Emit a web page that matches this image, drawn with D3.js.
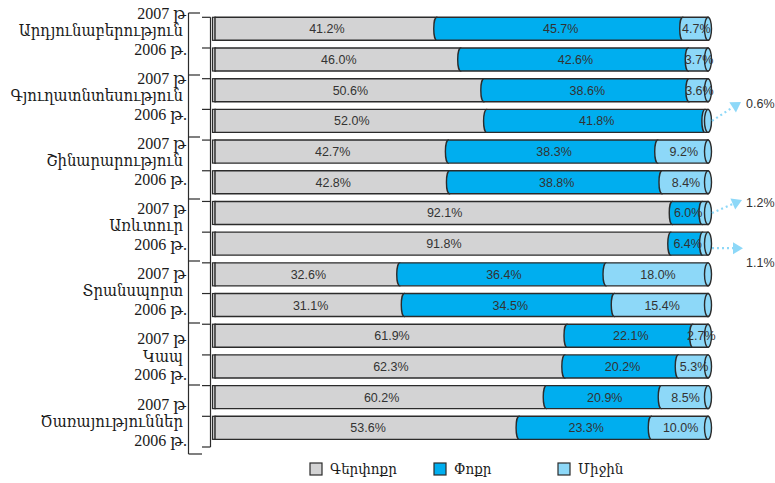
<!DOCTYPE html>
<html>
<head>
<meta charset="utf-8">
<script src="https://cdn.jsdelivr.net/npm/d3@7"></script>
<style>
  body { margin: 0; background: #fff; }
  svg { display: block; }
</style>
</head>
<body>
<svg id="chart"></svg>
<script>
"use strict";

// categories
var groups = ["Արդյունաբերություն", "Գյուղատնտեսություն", "Շինարարություն",
  "Առևտուր", "Տրանսպորտ", "Կապ", "Ծառայություններ"];
var years = ["2007 թ", "2006 թ."];
var seriesNames = ["Գերփոքր", "Փոքր", "Միջին"];

// one value per bar, in order: group1 2007, group1 2006, group2 2007 ...
var micro = [41.2, 46.0, 50.6, 52.0, 42.7, 42.8, 92.1, 91.8, 32.6, 31.1, 61.9, 62.3, 60.2, 53.6];
var small = [45.7, 42.6, 38.6, 41.8, 38.3, 38.8, 6.0, 6.4, 36.4, 34.5, 22.1, 20.2, 20.9, 23.3];
var medium = [4.7, 3.7, 3.6, 0.6, 9.2, 8.4, 1.2, 1.1, 18.0, 15.4, 2.7, 5.3, 8.5, 10.0];

var colors = ["#d3d3d4", "#00aeef", "#8dd8f8"];
var strokeCol = "#2b2b2b";

// callout arrows for the tiny segments (direction of the dotted arrow, label offset)
var calloutLayout = [
  { dx: 29, dy: -19, oy: 0, ly: -17 },
  { dx: 30, dy: -13, oy: 0, ly: -10 },
  { dx: 31, dy: 0, oy: 4.5, ly: 19 }
];

var svg = d3.select("#chart").attr("width", 775).attr("height", 483);

var rows = [];
groups.forEach(function (g, gi) {
  years.forEach(function (yr, yi) {
    var i = gi * 2 + yi;
    rows.push({ key: g + "|" + yr, group: g, year: yr, vals: [micro[i], small[i], medium[i]] });
  });
});

var yBar = d3.scaleBand().domain(rows.map(function (r) { return r.key; }))
  .range([17.3, 447]);
var barH = yBar.bandwidth() * 0.75;
var yGroup = d3.scaleBand().domain(groups).range([13, 447]);
var yLabel = d3.scaleLinear().domain([0, groups.length - 1]).range([30, 421]);

var x0 = 215, x1 = 708, capRx = 3;

// ---- axes / brackets
var axis = svg.append("g").attr("stroke", strokeCol).attr("stroke-width", 1.2);
axis.append("line").attr("x1", 210.5).attr("x2", 210.5).attr("y1", yBar.range()[0]).attr("y2", 447);
var tickYs = rows.map(function (r) { return yBar(r.key); }).concat([447]);
axis.selectAll("line.tk").data(tickYs).enter().append("line")
  .attr("class", "tk")
  .attr("x1", 202).attr("x2", 210.5)
  .attr("y1", function (d) { return d; }).attr("y2", function (d) { return d; });

axis.append("line").attr("x1", 188.5).attr("x2", 188.5).attr("y1", 13).attr("y2", 454);
axis.selectAll("line.gt").data(groups).enter().append("line")
  .attr("class", "gt")
  .attr("x1", 188.5).attr("x2", 200)
  .attr("y1", function (d) { return yGroup(d); }).attr("y2", function (d) { return yGroup(d); });
axis.append("line").attr("x1", 188.5).attr("x2", 202).attr("y1", 454).attr("y2", 454);

// ---- left labels
var serif = "'Liberation Serif', 'DejaVu Serif', serif";
var lab = svg.append("g").attr("fill", "#1a1a1a").style("font-family", serif);
groups.forEach(function (g, gi) {
  var cy = yLabel(gi);
  lab.append("text").attr("x", 186).attr("y", cy - 17).attr("dy", "0.35em")
    .attr("text-anchor", "end").style("font-size", "16px").text(years[0]);
  lab.append("text").attr("x", 183).attr("y", cy).attr("dy", "0.35em")
    .attr("text-anchor", "end")
    .style("font-family", "'DejaVu Serif', serif").style("font-stretch", "condensed")
    .style("font-size", "16.5px").text(g);
  lab.append("text").attr("x", 187).attr("y", cy + 19).attr("dy", "0.35em")
    .attr("text-anchor", "end").style("font-size", "16px").text(years[1]);
});

// ---- bars
var bars = svg.append("g");
var callouts = [];
rows.forEach(function (r) {
  var total = d3.sum(r.vals);
  var x = d3.scaleLinear().domain([0, total]).range([x0, x1]);
  var top = yBar(r.key), mid = top + barH / 2;
  var g = bars.append("g");
  var acc = 0;
  var segs = r.vals.map(function (v, i) {
    var s = { a: acc, b: acc + v, v: v, i: i };
    acc += v;
    return s;
  });
  // left edge sliver
  g.append("rect").attr("x", x0 - 2.5).attr("y", top).attr("width", 3).attr("height", barH)
    .attr("fill", colors[0]).attr("stroke", strokeCol).attr("stroke-width", 1.2);
  g.selectAll("path.seg").data(segs).enter().append("path")
    .attr("class", "seg")
    .attr("d", function (s) {
      var xa = x(s.a), xb = x(s.b);
      if (s.i === 0) {
        return "M" + xa + "," + top + "H" + xb + "V" + (top + barH) + "H" + xa + "Z";
      }
      return "M" + xa + "," + top + "H" + xb + "V" + (top + barH) + "H" + xa +
        "A" + capRx + "," + (barH / 2) + " 0 0 1 " + xa + "," + top + "Z";
    })
    .attr("fill", function (s) { return colors[s.i]; })
    .attr("stroke", strokeCol).attr("stroke-width", 1.4);
  g.append("ellipse").attr("cx", x1).attr("cy", mid).attr("rx", capRx + 0.5).attr("ry", barH / 2)
    .attr("fill", colors[2]).attr("stroke", strokeCol).attr("stroke-width", 1.4);

  segs.forEach(function (s) {
    var txt = s.v.toFixed(1) + "%";
    if (x(s.b) - x(s.a) < 8) {
      callouts.push({ y: mid, text: txt });
      return;
    }
    g.append("text").attr("x", (x(s.a) + x(s.b)) / 2 + 1).attr("y", mid).attr("dy", "0.36em")
      .attr("text-anchor", "middle")
      .style("font-family", "'Liberation Sans', Arial, sans-serif").style("font-size", "12.5px")
      .attr("fill", "#333").text(txt);
  });
});

// ---- callouts for tiny segments
var cg = svg.append("g");
callouts.forEach(function (c, i) {
  var L = calloutLayout[i];
  var sx = x1 + 4, sy = c.y + L.oy;
  var ex = sx + L.dx, ey = sy + L.dy;
  var len = Math.sqrt(L.dx * L.dx + L.dy * L.dy);
  var ux = L.dx / len, uy = L.dy / len;
  var bx = ex - ux * 10, by = ey - uy * 10;
  cg.append("line").attr("x1", sx).attr("y1", sy).attr("x2", bx).attr("y2", by)
    .attr("stroke", colors[2]).attr("stroke-width", 2.2).attr("stroke-dasharray", "2,3");
  cg.append("path")
    .attr("d", "M" + ex + "," + ey + "L" + (bx - uy * 6) + "," + (by + ux * 6) +
      "L" + (bx + uy * 6) + "," + (by - ux * 6) + "Z")
    .attr("fill", colors[2]);
  cg.append("text").attr("x", 746).attr("y", c.y + L.ly).attr("dy", "0.36em")
    .style("font-family", "'Liberation Sans', Arial, sans-serif").style("font-size", "12.5px")
    .attr("fill", "#333").text(c.text);
});

// ---- legend
var legX = d3.scalePoint().domain(seriesNames).range([310, 558]);
var leg = svg.append("g").selectAll("g").data(seriesNames).enter().append("g")
  .attr("transform", function (d) { return "translate(" + legX(d) + ",463)"; });
leg.append("rect").attr("width", 12).attr("height", 12)
  .attr("fill", function (d, i) { return colors[i]; })
  .attr("stroke", strokeCol).attr("stroke-width", 1.2);
leg.append("text").attr("x", 20).attr("y", 6).attr("dy", "0.35em")
  .style("font-family", "'DejaVu Serif', serif").style("font-stretch", "condensed")
  .style("font-size", "15px").attr("fill", "#1a1a1a")
  .text(function (d) { return d; });
</script>
</body>
</html>
